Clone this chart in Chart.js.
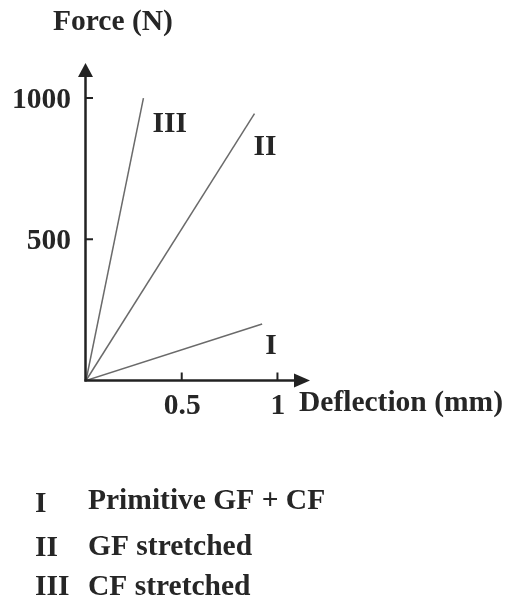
<!DOCTYPE html>
<html>
<head>
<meta charset="utf-8">
<script src="https://cdn.jsdelivr.net/npm/chart.js@4/dist/chart.umd.min.js"></script>
<style>
  html, body { margin: 0; padding: 0; background: #fff; }
  canvas { display: block; }
</style>
</head>
<body>
<canvas id="c" width="516" height="600"></canvas>
<script>
// ---- data ----
const seriesNames = ["I", "II", "III"];
const seriesLabels = ["Primitive GF + CF", "GF stretched", "CF stretched"];
const deflectionI = [0, 0.92];
const forceI = [0, 200];
const deflectionII = [0, 0.88];
const forceII = [0, 945];
const deflectionIII = [0, 0.30];
const forceIII = [0, 1000];
const xTicks = [0.5, 1];
const xTickLabels = ["0.5", "1"];
const yTicks = [500, 1000];
const yTickLabels = ["500", "1000"];
const xTitle = "Deflection (mm)";
const yTitle = "Force (N)";

const FONT = "bold 29.5px 'Liberation Serif', 'Times New Roman', serif";
const TEXT = "#262626";
const AXIS = "#222";
const LINE = "#6a6a6a";

function pts(xs, ys) { return xs.map((x, i) => ({ x: x, y: ys[i] })); }

const axesPlugin = {
  id: 'axesPlugin',
  afterDraw(chart) {
    const ctx = chart.ctx;
    const xs = chart.scales.x, ys = chart.scales.y;
    const ox = xs.getPixelForValue(0), oy = ys.getPixelForValue(0);
    const xEnd = xs.getPixelForValue(xs.max), yEnd = ys.getPixelForValue(ys.max);
    ctx.save();
    ctx.strokeStyle = AXIS; ctx.fillStyle = AXIS; ctx.lineWidth = 2.5;
    // y axis
    ctx.beginPath(); ctx.moveTo(ox - 0.5, oy + 1); ctx.lineTo(ox - 0.5, yEnd + 12); ctx.stroke();
    ctx.beginPath(); ctx.moveTo(ox - 0.5, yEnd); ctx.lineTo(ox - 8, yEnd + 14); ctx.lineTo(ox + 7, yEnd + 14); ctx.closePath(); ctx.fill();
    // x axis
    ctx.beginPath(); ctx.moveTo(ox - 1.5, oy); ctx.lineTo(xEnd - 12, oy); ctx.stroke();
    ctx.beginPath(); ctx.moveTo(xEnd, oy); ctx.lineTo(xEnd - 16, oy - 7); ctx.lineTo(xEnd - 16, oy + 7); ctx.closePath(); ctx.fill();
    // tick marks
    ctx.lineWidth = 2;
    yTicks.forEach(v => { const p = ys.getPixelForValue(v); ctx.beginPath(); ctx.moveTo(ox, p); ctx.lineTo(ox + 7, p); ctx.stroke(); });
    xTicks.forEach(v => { const p = xs.getPixelForValue(v); ctx.beginPath(); ctx.moveTo(p, oy); ctx.lineTo(p, oy - 8); ctx.stroke(); });
    // tick labels
    ctx.font = FONT; ctx.fillStyle = TEXT;
    ctx.textAlign = 'right'; ctx.textBaseline = 'alphabetic';
    yTicks.forEach((v, i) => ctx.fillText(yTickLabels[i], ox - 15, ys.getPixelForValue(v) + 10));
    ctx.textAlign = 'center';
    xTicks.forEach((v, i) => ctx.fillText(xTickLabels[i], xs.getPixelForValue(v) + 0.5, oy + 33));
    // axis titles
    ctx.textAlign = 'left';
    ctx.fillText(xTitle, xEnd - 11, oy + 30);
    ctx.fillText(yTitle, ox - 33, 30);
    // line labels near line ends
    const offs = [[3, 30], [-1, 41], [9, 34]];
    chart.data.datasets.forEach((ds, i) => {
      const end = ds.data[ds.data.length - 1];
      const px = xs.getPixelForValue(end.x), py = ys.getPixelForValue(end.y);
      ctx.fillText(seriesNames[i], px + offs[i][0], py + offs[i][1]);
    });
    // legend
    const rows = [[512, 509], [556, 555], [595, 595]];
    seriesNames.forEach((n, i) => {
      ctx.fillText(n, 35, rows[i][0]);
      ctx.fillText(seriesLabels[i], 88, rows[i][1]);
    });
    ctx.restore();
  }
};

new Chart(document.getElementById('c'), {
  type: 'scatter',
  data: {
    datasets: [
      { label: seriesNames[0], data: pts(deflectionI, forceI) },
      { label: seriesNames[1], data: pts(deflectionII, forceII) },
      { label: seriesNames[2], data: pts(deflectionIII, forceIII) }
    ].map(d => Object.assign(d, { showLine: true, borderColor: LINE, borderWidth: 1.5, pointRadius: 0, fill: false }))
  },
  options: {
    responsive: false,
    animation: false,
    events: [],
    layout: { padding: { left: 86, right: 206, top: 63, bottom: 219.5 } },
    plugins: { legend: { display: false }, tooltip: { enabled: false } },
    scales: {
      x: { type: 'linear', min: 0, max: 1.17, display: false },
      y: { type: 'linear', min: 0, max: 1124, display: false }
    }
  },
  plugins: [axesPlugin]
});
</script>
</body>
</html>
